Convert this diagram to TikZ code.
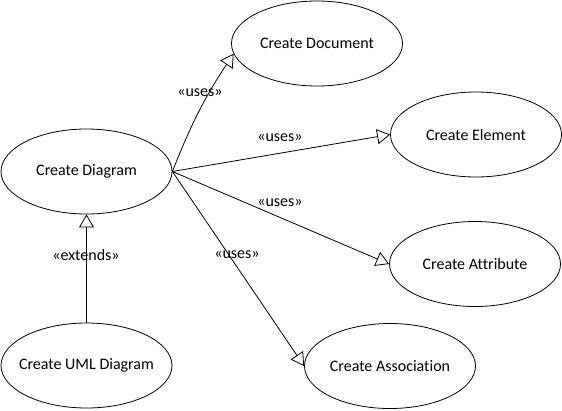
\documentclass[tikz,border=0pt]{standalone}
\usepackage{fontspec}
\setmainfont{Carlito}[Ligatures=NoCommon]
\usetikzlibrary{shapes.geometric,arrows.meta}
\begin{document}
\begin{tikzpicture}[x=1pt, y=-1pt, font=\fontsize{16}{19}\selectfont, line join=round, line cap=round]
			\tikzset{usecase/.style={draw, ellipse, line width=0.8pt, minimum width=171pt, minimum height=85pt, inner sep=0pt, label=center:{#1}},
				rel/.style={line width=0.8pt, -{Triangle[open, length=13pt, width=15pt]}},
				lbl/.style={inner sep=1pt}}
			\useasboundingbox (0,0) rectangle (562,410);
			\node[usecase={Create Diagram}] (diag) at (86.5,171.5) {};
			\node[usecase={Create UML Diagram}] (uml) at (86.5,365.5) {};
			\node[usecase={Create Document}] (doc) at (317,43.5) {};
			\node[usecase={Create Element}] (elem) at (476,134.5) {};
			\node[usecase={Create Attribute}] (attr) at (475,264) {};
			\node[usecase={Create Association}] (assoc) at (390,366) {};
			\draw[rel] (diag.east) to[bend left=6] (doc.187);
			\draw[rel] (diag.east)--(elem.west);
			\draw[rel] (diag.east)--(attr.west);
			\draw[rel] (diag.east)--(assoc.west);
			\draw[rel] (uml.north)--(diag.south);
			\node[lbl] (u-doc) at (200,93) {«uses»};
			\node[lbl] (u-elem) at (280,138) {«uses»};
			\node[lbl] (u-attr) at (280,203) {«uses»};
			\node[lbl] (u-assoc) at (237,255) {«uses»};
			\node[lbl] (ext) at (86,255) {«extends»};
		\end{tikzpicture}
\end{document}
